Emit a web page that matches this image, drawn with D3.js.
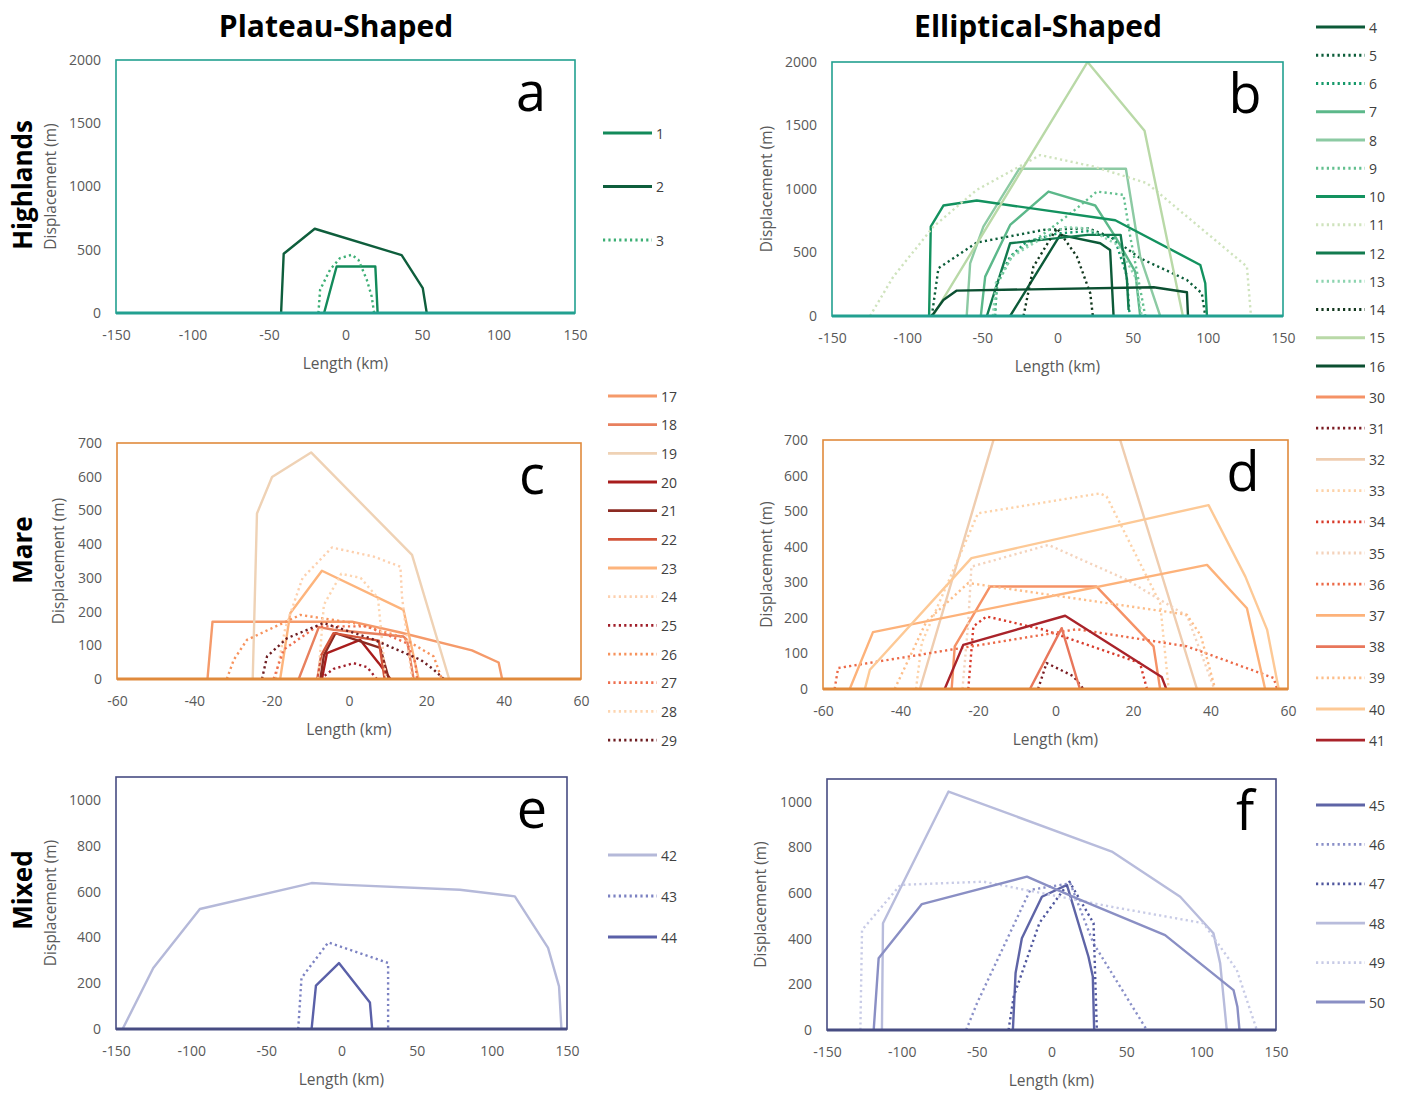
<!DOCTYPE html>
<html><head><meta charset="utf-8">
<script src="https://cdn.jsdelivr.net/npm/d3@7"></script>
<style>body{margin:0;background:#fff}</style>
</head><body>
<svg id="chart" width="1410" height="1093"></svg>
<script>
// Topographic profiles: each point is [length (km), displacement (m)]
const highlandPlateau = [
  {id:"1", pts:[[-14,0],[-5.8,368],[19.5,368],[21,0]]},
  {id:"2", pts:[[-42.1,0],[-40.4,468],[-20.1,666],[36.7,458],[50.5,197],[53.1,0]]},
  {id:"3", pts:[[-17.7,0],[-16.6,184],[-10.1,342],[-3.6,434],[4.1,460],[8.4,421],[13.9,263],[17.1,132],[18.7,0]]}
];
const highlandElliptical = [
  {id:"4", pts:[[-31.5,0],[1.8,639],[28.4,573],[35,520],[37.3,0]]},
  {id:"5", pts:[[-83.6,0],[-79.2,376],[-53.7,578],[-9.3,678],[20,691],[35,625],[55,455],[86,284],[96,179],[98.3,0]]},
  {id:"6", pts:[[-41.5,0],[-40.4,258],[-31.5,468],[-20.4,586],[0,650],[20,668],[38,610],[46,320],[48,0]]},
  {id:"7", pts:[[-51,0],[-48.1,310],[-31.5,717],[-6,980],[25.1,870],[38.4,625],[51.7,350],[55,0]]},
  {id:"8", pts:[[-60.4,0],[-58.1,415],[-49.3,704],[-25.5,1159],[45.5,1159],[55,468],[68.3,0]]},
  {id:"9", pts:[[-42,0],[-40,250],[-30,480],[-10,640],[10,820],[26.2,980],[43.9,954],[48.4,625],[58.4,0]]},
  {id:"10", pts:[[-85.4,0],[-84.3,704],[-75.9,870],[-53.7,909],[38.4,754],[95,402],[98.3,258],[99.4,0]]},
  {id:"11", pts:[[-124.7,0],[-109.2,310],[-82.5,704],[-53.7,993],[-11.5,1267],[24,1177],[59.5,1046],[126,389],[128.7,0]]},
  {id:"12", pts:[[-47,0],[-31.5,573],[20,639],[42,639],[46.2,284],[47.3,47]]},
  {id:"13", pts:[[-43,0],[-41,260],[-30,470],[-12,600],[5,700],[20,690],[40,560],[52,300],[56,0]]},
  {id:"14", pts:[[-22.6,0],[-16,389],[-0.4,691],[12.9,468],[21.8,179],[23.5,0]]},
  {id:"15", pts:[[-83,0],[20,2000],[57.9,1458],[83.4,0]]},
  {id:"16", pts:[[-83.6,0],[-75.9,126],[-67,200],[64,226],[86.1,187],[86.8,0]]}
];
const marePlateau = [
  {id:"17", pts:[[-36.6,0],[-35.3,170],[0.8,170],[13.3,138],[31.8,85],[38.7,49],[39.6,0]]},
  {id:"18", pts:[[-13,0],[-7.8,154],[-4,146],[14.1,126],[15,116],[16.7,0]]},
  {id:"19", pts:[[-24.9,0],[-23.8,491],[-19.9,599],[-9.8,672],[16.3,368],[25.9,0]]},
  {id:"20", pts:[[-7,0],[-5.7,77],[2.9,116],[7.7,47],[10.7,0]]},
  {id:"21", pts:[[-7.4,0],[-6.5,70],[-3.5,136],[8.1,92],[10.3,0]]},
  {id:"22", pts:[[-8.2,0],[-7.2,70],[-4,136],[7.7,114],[9.2,0]]},
  {id:"23", pts:[[-17.8,0],[-15.2,195],[-7,321],[14.1,205],[18,0]]},
  {id:"24", pts:[[-19,0],[-16.5,150],[-12,300],[-4.4,390],[6.4,363],[13.3,333],[13.7,245],[16.3,0]]},
  {id:"25", pts:[[-7.4,0],[-4,30],[1.2,47],[4.7,35],[7.2,0]]},
  {id:"26", pts:[[-31.6,0],[-29.8,57],[-26.4,116],[-12.6,190],[1.2,166],[13.3,126],[21.9,67],[24,0]]},
  {id:"27", pts:[[-19.5,0],[-16.9,87],[-8.3,156],[4.7,156],[15,106],[17.2,47],[17.6,0]]},
  {id:"28", pts:[[-8,0],[-6.5,220],[-2,312],[3,300],[7.5,240],[9.5,0]]},
  {id:"29", pts:[[-22.5,0],[-21.2,67],[-16,121],[-6.6,166],[5.5,121],[18.5,57],[21.9,28],[24.5,0]]}
];
const mareElliptical = [
  {id:"30", pts:[[-26.8,0],[-26,120],[-16.9,288],[10.6,288],[25.3,120],[27,0]]},
  {id:"31", pts:[[-4.5,0],[-2.3,73],[4.6,36],[7.2,0]]},
  {id:"32", pts:[[-35,0],[0,1290],[36.5,0]]},
  {id:"33", pts:[[-36,0],[-34.5,130],[-20,494],[11.5,550],[13.2,541],[27,241],[29.2,0]]},
  {id:"34", pts:[[-22.5,0],[-21.2,176],[-17.8,204],[-3.1,167],[21.8,73],[23.6,0]]},
  {id:"35", pts:[[-24,0],[-22.5,190],[-21.7,344],[-1.8,405],[18.4,307],[34,205],[41,0]]},
  {id:"36", pts:[[-57,0],[-56.1,59],[5.5,168],[33.9,120],[56.3,31],[57.2,0]]},
  {id:"37", pts:[[-53.1,0],[-47.1,160],[39.1,349],[49.4,227],[54.1,0]]},
  {id:"38", pts:[[-6.6,0],[1.6,171],[6.3,0]]},
  {id:"39", pts:[[-41.5,0],[-33.3,190],[-22.5,298],[33.9,209],[37.5,150],[41.2,0]]},
  {id:"40", pts:[[-49.2,0],[-47.9,54],[-21.7,368],[39.5,517],[49,316],[54.6,167],[57.6,0]]},
  {id:"41", pts:[[-28.6,0],[-23.8,124],[2.5,206],[27.4,34],[28.6,0]]}
];
const mixedPlateau = [
  {id:"42", pts:[[-145.6,0],[-125.2,266],[-94.2,524],[-19.9,637],[-1.1,630],[78.7,608],[115.3,579],[137.4,354],[144.7,186],[146.3,0]]},
  {id:"43", pts:[[-28.8,0],[-26.6,223],[-8.8,378],[31,288],[31,0]]},
  {id:"44", pts:[[-19.9,0],[-17,189],[-1.7,288],[18.9,116],[20.4,0]]}
];
const mixedElliptical = [
  {id:"45", pts:[[-25.8,0],[-24,250],[-19.8,402],[-6.4,584],[10.3,636],[24.7,321],[27.6,234],[28.5,0]]},
  {id:"46", pts:[[-57,0],[-49.8,117],[-14.2,614],[12.5,643],[28,380],[63.7,0]]},
  {id:"47", pts:[[-28.7,0],[-25.3,146],[-8,470],[12,650],[28.1,468],[30.3,0]]},
  {id:"48", pts:[[-113.3,0],[-112.6,468],[-68.8,1045],[40.3,782],[86,584],[108.2,424],[112.7,292],[117.1,0]]},
  {id:"49", pts:[[-127.7,0],[-126.6,438],[-101,636],[-45.4,650],[39.2,541],[101.5,468],[123.8,263],[137.2,0]]},
  {id:"50", pts:[[-118.8,0],[-115.5,314],[-86.6,552],[-16.4,672],[16.9,577],[75.9,416],[121.6,175],[124.2,102],[125.6,0]]}
];

// Axis tick values
const lengthTicksWide = [-150,-100,-50,0,50,100,150];
const lengthTicksNarrow = [-60,-40,-20,0,20,40,60];
const dispTicksHighland = [0,500,1000,1500,2000];
const dispTicksMare = [0,100,200,300,400,500,600,700];
const dispTicksMixed = [0,200,400,600,800,1000];

// Line styles
const seriesColor = {
  "1":"#138a5a","2":"#0e5e3c","3":"#3daf75",
  "4":"#0c5a38","5":"#0d5e3a","6":"#16996a","7":"#5cb88a","8":"#8ccaa3","9":"#63c08f",
  "10":"#13925f","11":"#cfe3bd","12":"#127b4f","13":"#8dd4b0","14":"#13381f","15":"#b9d9a7","16":"#0b4f31",
  "17":"#f59a6a","18":"#e8805e","19":"#efd2b5","20":"#a81c1c","21":"#8b2a22","22":"#d2543a","23":"#fdb47c",
  "24":"#fdd0ae","25":"#a01f2a","26":"#f7935d","27":"#ee6f4f","28":"#fdd5b0","29":"#6e1d21",
  "30":"#f59266","31":"#7a1b22","32":"#efcdb0","33":"#fdd2a8","34":"#d83b2b","35":"#f4d3bc","36":"#ec6a48",
  "37":"#fdb27a","38":"#e8765b","39":"#fdbe8a","40":"#fdc996","41":"#a9232a",
  "42":"#b5b9d9","43":"#7c82c2","44":"#5a60a8","45":"#5e64a6","46":"#8a90c8","47":"#50579e",
  "48":"#b8bcdc","49":"#c8cbe6","50":"#8a8fc4"
};
const dottedSeries = ["3","5","6","9","11","13","14","24","25","26","27","28","29",
  "31","33","34","35","36","39","43","46","47","49"];

const tealFrame = "#22a090", orangeFrame = "#e08a3c", navyFrame = "#474c82";

const panels = [
  {letter:"a", data:highlandPlateau, x0:116, x1:575, y0:60, y1:313, xDom:[-150,150], yDom:[0,2000],
   xTicks:lengthTicksWide, yTicks:dispTicksHighland, frame:tealFrame, yTitleX:50, letterX:531,
   legend:{x:603, y:133, step:53.5}},
  {letter:"b", data:highlandElliptical, x0:832, x1:1283, y0:62, y1:316, xDom:[-150,150], yDom:[0,2000],
   xTicks:lengthTicksWide, yTicks:dispTicksHighland, frame:tealFrame, yTitleX:766, letterX:1245,
   legend:{x:1316, y:27, step:28.25}},
  {letter:"c", data:marePlateau, x0:117, x1:581, y0:443, y1:679, xDom:[-60,60], yDom:[0,700],
   xTicks:lengthTicksNarrow, yTicks:dispTicksMare, frame:orangeFrame, yTitleX:58, letterX:532,
   legend:{x:608, y:396, step:28.67}},
  {letter:"d", data:mareElliptical, x0:823, x1:1288, y0:440, y1:689, xDom:[-60,60], yDom:[0,700],
   xTicks:lengthTicksNarrow, yTicks:dispTicksMare, frame:orangeFrame, yTitleX:766, letterX:1243,
   legend:{x:1316, y:397, step:31.2}},
  {letter:"e", data:mixedPlateau, x0:116, x1:567, y0:777, y1:1029, xDom:[-150,150], yDom:[0,1100],
   xTicks:lengthTicksWide, yTicks:dispTicksMixed, frame:navyFrame, yTitleX:50, letterX:532,
   legend:{x:608, y:855, step:41}},
  {letter:"f", data:mixedElliptical, x0:827, x1:1276, y0:779, y1:1030, xDom:[-150,150], yDom:[0,1100],
   xTicks:lengthTicksWide, yTicks:dispTicksMixed, frame:navyFrame, yTitleX:760, letterX:1245,
   legend:{x:1316, y:805, step:39.4}}
];

const svg = d3.select("#chart");
const FONT = "'Open Sans', 'Segoe UI', sans-serif";
const defs = svg.append("defs");
const plainNumber = d => String(d);

function styleLine(sel, id) {
  sel.attr("fill","none")
    .attr("stroke", seriesColor[id])
    .attr("stroke-width", 2.4)
    .attr("stroke-linejoin","round")
    .attr("stroke-dasharray", dottedSeries.includes(id) ? "2.2,3.2" : null);
}

panels.forEach((p, i) => {
  const xs = d3.scaleLinear().domain(p.xDom).range([p.x0, p.x1]);
  const ys = d3.scaleLinear().domain(p.yDom).range([p.y1, p.y0]);
  const g = svg.append("g");

  defs.append("clipPath").attr("id","clip"+i)
    .append("rect").attr("x",p.x0).attr("y",p.y0)
    .attr("width",p.x1-p.x0).attr("height",p.y1-p.y0);

  // profile lines
  const line = d3.line().x(d=>xs(d[0])).y(d=>ys(d[1]));
  const lines = g.append("g").attr("clip-path","url(#clip"+i+")");
  p.data.forEach(s => {
    lines.append("path").datum(s.pts).attr("d", line).call(styleLine, s.id);
  });

  // frame
  g.append("rect").attr("x",p.x0).attr("y",p.y0)
    .attr("width",p.x1-p.x0).attr("height",p.y1-p.y0)
    .attr("fill","none").attr("stroke",p.frame).attr("stroke-width",1.6);
  g.append("line").attr("x1",p.x0).attr("x2",p.x1).attr("y1",p.y1).attr("y2",p.y1)
    .attr("stroke",p.frame).attr("stroke-width",3);

  // axes (labels only)
  const xAxis = d3.axisBottom(xs).tickValues(p.xTicks).tickFormat(plainNumber).tickSize(0).tickPadding(17);
  const xa = g.append("g").attr("transform",`translate(0,${p.y1})`).call(xAxis);
  const yAxis = d3.axisLeft(ys).tickValues(p.yTicks).tickFormat(plainNumber).tickSize(0).tickPadding(15);
  const ya = g.append("g").attr("transform",`translate(${p.x0},0)`).call(yAxis);
  [xa, ya].forEach(a => {
    a.select(".domain").remove();
    a.selectAll("text").attr("font-family",FONT).attr("font-size",14).attr("fill","#595959");
  });

  // axis titles
  g.append("text").attr("x",(p.x0+p.x1)/2).attr("y",p.y1+50)
    .attr("text-anchor","middle").attr("dominant-baseline","central")
    .attr("font-family",FONT).attr("font-size",15.5).attr("fill","#595959").text("Length (km)");
  g.append("text").attr("transform",`translate(${p.yTitleX},${(p.y0+p.y1)/2}) rotate(-90)`)
    .attr("text-anchor","middle").attr("dominant-baseline","central")
    .attr("font-family",FONT).attr("font-size",15.5).attr("fill","#595959").text("Displacement (m)");

  // panel letter
  g.append("text").attr("x",p.letterX).attr("y",p.y0+51)
    .attr("text-anchor","middle").attr("font-family",FONT).attr("font-size",54)
    .attr("fill","#000").text(p.letter);

  // legend
  const lg = svg.append("g");
  p.data.forEach((s, k) => {
    const y = p.legend.y + k*p.legend.step;
    lg.append("line").attr("x1",p.legend.x).attr("x2",p.legend.x+49)
      .attr("y1",y).attr("y2",y).call(styleLine, s.id).attr("stroke-width",2.8);
    lg.append("text").attr("x",p.legend.x+53).attr("y",y)
      .attr("dominant-baseline","central").attr("font-family",FONT).attr("font-size",14)
      .attr("fill","#404040").text(s.id);
  });
});

// column and row headings
svg.append("text").attr("x",336).attr("y",25).attr("text-anchor","middle").attr("dominant-baseline","central")
  .attr("font-family",FONT).attr("font-weight",700).attr("font-size",30).attr("fill","#000").text("Plateau-Shaped");
svg.append("text").attr("x",1038).attr("y",25).attr("text-anchor","middle").attr("dominant-baseline","central")
  .attr("font-family",FONT).attr("font-weight",700).attr("font-size",30).attr("fill","#000").text("Elliptical-Shaped");
[["Highlands",185],["Mare",550],["Mixed",890]].forEach(([t,y]) => {
  svg.append("text").attr("transform",`translate(22,${y}) rotate(-90)`)
    .attr("text-anchor","middle").attr("dominant-baseline","central")
    .attr("font-family",FONT).attr("font-weight",700).attr("font-size",26).attr("fill","#000").text(t);
});
</script>
</body></html>
